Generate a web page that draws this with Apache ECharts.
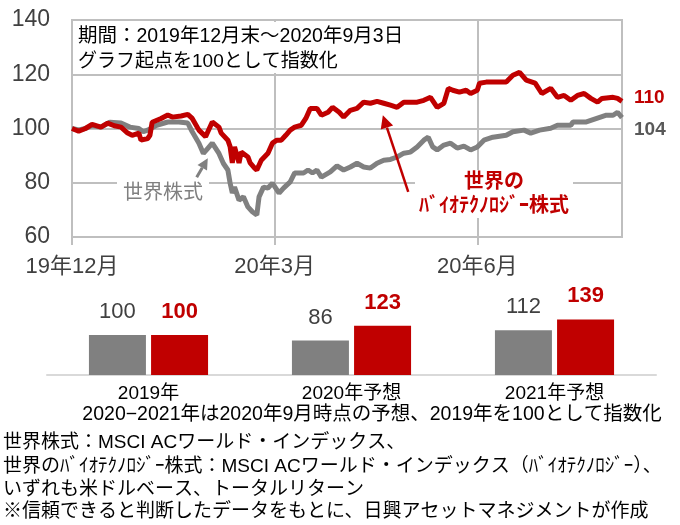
<!DOCTYPE html>
<html>
<head>
<meta charset="utf-8">
<script src="https://cdn.jsdelivr.net/npm/echarts@6/dist/echarts.min.js"></script>
<style>
html, body { margin: 0; background: #fff; }
#chart { width: 680px; height: 525px; }
</style>
</head>
<body>
<div id="chart"></div>
<script>
// days counted from 2019-12-31, index = 100 at start
const worldDays = [0, 3, 6, 9, 13, 17, 22, 26, 30, 32, 34, 38, 43, 48, 52, 54, 57, 59, 61, 63, 66, 68, 70, 71, 72, 73, 75, 77, 79, 81, 83, 84, 86, 88, 90, 93, 95, 98, 100, 104, 106, 108, 110, 112, 116, 119, 122, 125, 128, 131, 134, 137, 140, 143, 146, 149, 152, 155, 158, 160, 162, 164, 167, 170, 173, 176, 179, 182, 185, 189, 195, 198, 203, 206, 210, 215, 218, 224, 225, 231, 236, 240, 243, 245, 247]
const worldValues = [100, 99.5, 100, 101, 100.5, 102.3, 102, 100.5, 100, 98.8, 99.4, 101.2, 102.4, 102.4, 102, 98.8, 94.6, 90.8, 92.7, 94.6, 90.8, 87.1, 84.7, 79.9, 76.2, 78.4, 73.6, 74.8, 71.1, 69.3, 68.1, 74.8, 78.4, 78, 79.9, 76.2, 78, 80.3, 83.6, 83.6, 84.7, 83.6, 84.7, 82.1, 84, 86.2, 84.7, 85.8, 87.2, 85.8, 85.4, 87.2, 88.3, 88.6, 89.5, 90.9, 91.3, 93.2, 95.7, 96.8, 93.2, 92.1, 93.9, 94.6, 92.8, 93.5, 92.1, 93.2, 95.7, 96.8, 97.5, 98.8, 99.4, 98.3, 99.4, 100.1, 101.2, 101.2, 102.4, 102.4, 103.8, 104.9, 104.9, 106, 104]

const bioDays = [0, 3, 6, 9, 13, 16, 19, 22, 25, 27, 30, 31, 34, 35, 36, 40, 43, 45, 49, 52, 54, 57, 60, 61, 63, 66, 67, 70, 71, 72, 73, 75, 76, 79, 80, 82, 83, 85, 88, 90, 92, 94, 96, 98, 100, 103, 105, 107, 110, 112, 115, 117, 120, 122, 125, 128, 131, 134, 137, 140, 143, 146, 149, 152, 155, 158, 161, 164, 167, 169, 171, 174, 177, 179, 182, 183, 186, 191, 195, 198, 201, 204, 208, 211, 215, 218, 221, 224, 227, 230, 233, 236, 238, 243, 245, 247]
const bioValues = [100, 99, 100, 101.5, 100.5, 102, 101, 100.5, 98.3, 97.5, 98.3, 95.7, 96.3, 97.5, 102.3, 103.7, 105, 104.2, 104.6, 105.2, 103.7, 99.4, 97, 98.8, 102.4, 100.5, 98.3, 95.7, 93.3, 87.3, 93.2, 87.3, 91.3, 89.5, 87.3, 85.4, 84.7, 88.3, 90.9, 94.6, 95.7, 95.7, 97.5, 99.4, 100.5, 101.2, 103.7, 107.4, 107.4, 104.9, 106, 107.8, 106, 104.2, 106.7, 107.4, 109.7, 109.3, 110, 109.3, 108.6, 107.8, 109.7, 109.7, 109.7, 110.4, 111.5, 107.8, 109.3, 114.8, 114.1, 113.4, 114.1, 112.9, 114.1, 116.7, 117.1, 117.1, 117.1, 119.6, 120.7, 117.8, 116.7, 112.9, 114.8, 111.5, 112.2, 110.4, 112.2, 112.9, 111.1, 109.7, 111.1, 111.5, 111.1, 110]

const monthLabels = ['19年12月', '20年3月', '20年6月']

const barCategories = ['2019年', '2020年予想', '2021年予想']
const worldForecast = [100, 86, 112]
const bioForecast = [100, 123, 139]

const notes = [
  '世界株式：MSCI ACワールド・インデックス、',
  '世界のﾊﾞｲｵﾃｸﾉﾛｼﾞｰ株式：MSCI ACワールド・インデックス（ﾊﾞｲｵﾃｸﾉﾛｼﾞｰ）、',
  'いずれも米ドルベース、トータルリターン',
  '※信頼できると判断したデータをもとに、日興アセットマネジメントが作成'
]

const font = "'Liberation Sans', 'Noto Sans CJK JP', sans-serif"
const RED = '#C00000'
const GRAY = '#808080'
const GRID = '#BFBFBF'

const pair = (xs, ys) => xs.map((x, i) => [x, ys[i]])

const chart = echarts.init(document.getElementById('chart'))

chart.setOption({
  animation: false,
  backgroundColor: '#fff',
  textStyle: { fontFamily: font },
  grid: [
    { left: 72, top: 20, width: 550, height: 217, show: true, borderColor: GRID, borderWidth: 2 },
    { left: 47, top: 315, width: 609, height: 60 }
  ],
  xAxis: [
    {
      type: 'value',
      gridIndex: 0,
      min: 0,
      max: 247,
      interval: 91,
      axisLine: { show: true, lineStyle: { color: GRID, width: 2 } },
      axisTick: { show: true, length: 8, lineStyle: { color: GRID, width: 2 } },
      splitLine: { show: true, lineStyle: { color: GRID, width: 2 } },
      axisLabel: {
        color: '#404040',
        fontSize: 22,
        margin: 19,
        showMaxLabel: false,
        formatter: (v) => monthLabels[Math.round(v / 91)] || ''
      }
    },
    {
      type: 'category',
      gridIndex: 1,
      data: barCategories,
      axisLine: { show: true, lineStyle: { color: '#D9D9D9', width: 2 } },
      axisTick: { show: false },
      axisLabel: { color: '#000', fontSize: 19, margin: 9 }
    }
  ],
  yAxis: [
    {
      type: 'value',
      gridIndex: 0,
      min: 60,
      max: 140,
      interval: 20,
      axisLine: { show: false },
      axisTick: { show: false },
      splitLine: { lineStyle: { color: GRID, width: 2 } },
      axisLabel: { color: '#404040', fontSize: 23, margin: 22 }
    },
    { type: 'value', gridIndex: 1, min: 0, max: 150, show: false }
  ],
  series: [
    {
      name: '世界株式',
      type: 'line',
      xAxisIndex: 0,
      yAxisIndex: 0,
      showSymbol: false,
      z: 2,
      lineStyle: { color: GRAY, width: 5 },
      endLabel: {
        show: true,
        formatter: (p) => p.value[1],
        color: '#595959',
        fontWeight: 'bold',
        fontSize: 19,
        distance: 12,
        offset: [0, 12]
      },
      data: pair(worldDays, worldValues)
    },
    {
      name: '世界のバイオテクノロジー株式',
      type: 'line',
      xAxisIndex: 0,
      yAxisIndex: 0,
      showSymbol: false,
      z: 3,
      lineStyle: { color: RED, width: 5 },
      endLabel: {
        show: true,
        formatter: (p) => p.value[1],
        color: RED,
        fontWeight: 'bold',
        fontSize: 19,
        distance: 12,
        offset: [0, -4]
      },
      data: pair(bioDays, bioValues)
    },
    {
      type: 'bar',
      xAxisIndex: 1,
      yAxisIndex: 1,
      barWidth: 57,
      barGap: '9%',
      itemStyle: { color: GRAY },
      label: { show: true, position: 'top', distance: 12, fontSize: 22, color: '#404040' },
      data: worldForecast
    },
    {
      type: 'bar',
      xAxisIndex: 1,
      yAxisIndex: 1,
      barWidth: 57,
      itemStyle: { color: RED },
      label: { show: true, position: 'top', distance: 12, fontSize: 22, fontWeight: 'bold', color: RED },
      data: bioForecast
    }
  ]
})

const px = (p) => chart.convertToPixel({ gridIndex: 0 }, p)

const arrow = (from, to, color, width, head) => {
  const a = px(from)
  const b = px(to)
  const ang = Math.atan2(b[1] - a[1], b[0] - a[0])
  const bx = b[0] - head * Math.cos(ang)
  const by = b[1] - head * Math.sin(ang)
  const w = head * 0.5
  return [
    { type: 'line', z: 100, shape: { x1: a[0], y1: a[1], x2: bx, y2: by }, style: { stroke: color, lineWidth: width } },
    {
      type: 'polygon',
      z: 100,
      shape: { points: [b, [bx - w * Math.sin(ang), by + w * Math.cos(ang)], [bx + w * Math.sin(ang), by - w * Math.cos(ang)]] },
      style: { fill: color }
    }
  ]
}

const text = (x, y, str, extra) => ({
  type: 'text',
  z: 100,
  x,
  y,
  style: Object.assign({ text: str, fontFamily: font, fontSize: 19, fill: '#000', verticalAlign: 'middle' }, extra)
})

chart.setOption({
  graphic: [
    { type: 'rect', z: 99, shape: { x: 74, y: 22, width: 336, height: 51 }, style: { fill: '#fff' } },
    text(78, 37, '期間：2019年12月末～2020年9月3日', { fontSize: 19.5 }),
    text(78, 62, 'グラフ起点を100として指数化'),
    text(163, 193, '世界株式', { fontSize: 20, fill: GRAY, align: 'center', backgroundColor: '#fff', padding: [2, 6] }),
    ...arrow([56, 82], [61, 89], GRAY, 3, 11),
    text(494, 194, '世界の\nﾊﾞｲｵﾃｸﾉﾛｼﾞｰ株式', {
      fontSize: 20, fontWeight: 'bold', fill: RED, align: 'center', lineHeight: 24, backgroundColor: '#fff', padding: [0, 4]
    }),
    ...arrow([151, 76.6], [139.6, 104.9], RED, 2.5, 13),
    text(372, 415, '2020−2021年は2020年9月時点の予想、2019年を100として指数化', { fontSize: 19.5, align: 'center' }),
    ...notes.map((s, i) => text(3, [443, 467, 490, 512][i], s))
  ]
})
</script>
</body>
</html>
